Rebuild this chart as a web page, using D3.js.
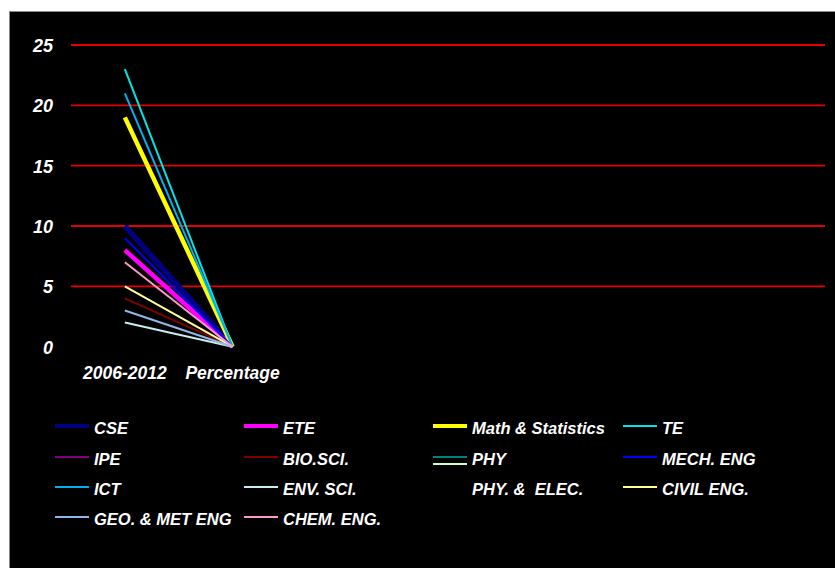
<!DOCTYPE html>
<html>
<head>
<meta charset="utf-8">
<script src="https://cdn.jsdelivr.net/npm/d3@7"></script>
<style>
  html, body { margin: 0; padding: 0; background: #ffffff; }
  svg { display: block; }
  text { font-family: "Liberation Sans", Arial, sans-serif; font-weight: bold; font-style: italic; fill: #ffffff; white-space: pre; }
</style>
</head>
<body>
<svg id="chart" width="835" height="568"></svg>
<script>
// Category labels along the x axis (the axis has room for 7 slots, only 2 used)
const categories = ["2006-2012", "Percentage"];
const slotCount = 7;

// Series names, in legend order
const seriesNames = [
  "CSE", "ETE", "Math & Statistics", "TE",
  "IPE", "BIO.SCI.", "PHY", "MECH. ENG",
  "ICT", "ENV. SCI.", "PHY. &  ELEC.", "CIVIL ENG.",
  "GEO. & MET ENG", "CHEM. ENG."
];

// Values per series: [2006-2012, Percentage]; null = no data
const cseValues   = [10, 0];
const eteValues   = [8, 0];
const mathValues  = [19, 0];
const teValues    = [23, 0];
const ipeValues   = [null, null];
const bioValues   = [4, 0];
const phyValues   = [null, null];
const mechValues  = [9, 0];
const ictValues   = [21, 0];
const envValues   = [2, 0];
const phyElValues = [null, null];
const civilValues = [5, 0];
const geoValues   = [3, 0];
const chemValues  = [7, 0];

const yTicks = [0, 5, 10, 15, 20, 25];

const seriesValues = [
  cseValues, eteValues, mathValues, teValues,
  ipeValues, bioValues, phyValues, mechValues,
  ictValues, envValues, phyElValues, civilValues,
  geoValues, chemValues
];

// Styling per series
const colors = [
  "#000080", "#ff00ff", "#ffff00", "#00e5e5",
  "#800080", "#800000", "#008080", "#0000ff",
  "#00b0f0", "#c6eeee", "#ccffcc", "#ffff99",
  "#8fb8e8", "#ff99cc"
];
const widths = [5.5, 4.5, 4.5, 2, 2, 2, 2, 2, 2, 2, 2, 2, 2, 2];

const svg = d3.select("#chart");

// Chart frame
svg.append("rect")
  .attr("x", 9.5).attr("y", 11.5)
  .attr("width", 830).attr("height", 560)
  .attr("fill", "#000000")
  .attr("stroke", "#8a8a8a").attr("stroke-width", 1);

const plot = { left: 71, right: 825, top: 45, bottom: 346.7 };

const x = d3.scaleBand()
  .domain(d3.range(slotCount))
  .range([plot.left, plot.right]);

const y = d3.scaleLinear()
  .domain([0, 25])
  .range([plot.bottom, plot.top]);

// Horizontal gridlines
svg.append("g")
  .selectAll("line")
  .data(yTicks.filter(t => t > 0))
  .join("line")
  .attr("x1", plot.left).attr("x2", plot.right)
  .attr("y1", d => y(d)).attr("y2", d => y(d))
  .attr("stroke", "#e60000").attr("stroke-width", 1.8);

// Y axis labels
const yAxis = d3.axisLeft(y).tickValues(yTicks).tickSize(0).tickPadding(0);
const yg = svg.append("g").attr("transform", "translate(53,0)").call(yAxis);
yg.select(".domain").remove();
yg.selectAll("text")
  .attr("fill", "#ffffff")
  .style("font-size", "18px")
  .attr("dy", "0.36em");

// X axis labels
const xAxis = d3.axisBottom(x)
  .tickSize(0)
  .tickFormat(i => categories[i] || "");
const xg = svg.append("g").attr("transform", `translate(0,${plot.bottom + 20})`).call(xAxis);
xg.select(".domain").remove();
xg.selectAll("text")
  .attr("fill", "#ffffff")
  .style("font-size", "17.5px")
  .attr("dy", "0.55em");

// Series lines
const line = d3.line()
  .defined(d => d.v !== null)
  .x(d => x(d.i) + x.bandwidth() / 2)
  .y(d => y(d.v));

svg.append("g")
  .selectAll("path")
  .data(seriesValues.map((vals, s) => ({ s, pts: vals.map((v, i) => ({ i, v })) })))
  .join("path")
  .attr("d", d => line(d.pts))
  .attr("fill", "none")
  .attr("stroke", d => colors[d.s])
  .attr("stroke-width", d => widths[d.s]);

// Legend: 4 columns, row-major
const colX = [55, 244, 433, 623];
const rowY = [428, 459, 489, 519];
const swatchLen = 34;
// The PHY. & ELEC. key sits just beneath the PHY key
const swatchShift = { 10: -23 };

const legend = svg.append("g");
seriesNames.forEach((name, s) => {
  const cx = colX[s % 4];
  const cy = rowY[Math.floor(s / 4)];
  const sy = cy + (swatchShift[s] || 0) - 2;
  legend.append("line")
    .attr("x1", cx).attr("x2", cx + swatchLen)
    .attr("y1", sy).attr("y2", sy)
    .attr("stroke", colors[s])
    .attr("stroke-width", Math.min(widths[s], 4));
  legend.append("text")
    .attr("x", cx + 39).attr("y", cy)
    .attr("dy", "0.36em")
    .style("font-size", "16.5px")
    .text(name);
});
</script>
</body>
</html>
